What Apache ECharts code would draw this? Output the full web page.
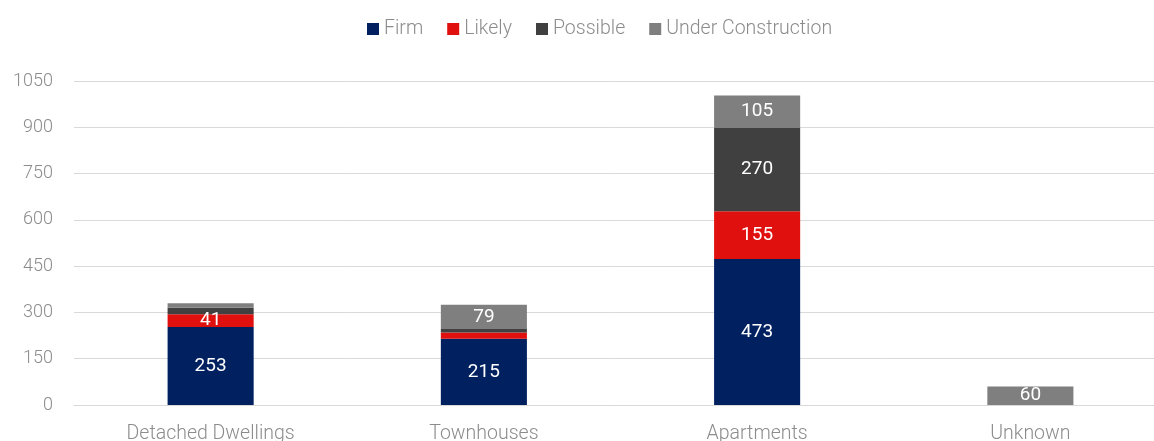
<!DOCTYPE html>
<html>
<head>
<meta charset="utf-8">
<title>Dwellings by Status</title>
<script src="https://cdn.jsdelivr.net/npm/echarts@6/dist/echarts.min.js"></script>
<style>
  html, body { margin: 0; padding: 0; background: #ffffff; }
  #chart { width: 1154px; height: 441px; }
</style>
</head>
<body>
<div id="chart"></div>
<script>
// Dwelling counts by type and development status
const categories = ['Detached Dwellings', 'Townhouses', 'Apartments', 'Unknown'];
const firm = [253, 215, 473, 0];
const likely = [41, 20, 155, 0];
const possible = [21, 11, 270, 0];
const underConstruction = [15, 79, 105, 60];
const yTicks = { min: 0, max: 1050, step: 150 };

const seriesDefs = [
  { name: 'Firm', values: firm, color: '#002060' },
  { name: 'Likely', values: likely, color: '#E0100F' },
  { name: 'Possible', values: possible, color: '#404040' },
  { name: 'Under Construction', values: underConstruction, color: '#7F7F7F' }
];

// Segments that are too thin to hold a number stay unlabelled
const LABEL_MIN = 40;

const chart = echarts.init(document.getElementById('chart'), null, { renderer: 'canvas' });

chart.setOption({
  animation: false,
  backgroundColor: '#ffffff',
  textStyle: { fontFamily: 'Roboto' },
  legend: {
    top: 14,
    left: 362,
    itemWidth: 12,
    itemHeight: 12,
    itemGap: 24,
    icon: 'rect',
    textStyle: { color: '#8c8c8c', fontSize: 19.5, fontWeight: 300, fontFamily: 'Roboto' },
    data: seriesDefs.map(s => s.name)
  },
  // the plot area runs a little past the right edge of the canvas
  grid: { left: 74, top: 81, width: 1093, height: 324, outerBoundsMode: 'none', containLabel: false },
  xAxis: {
    type: 'category',
    data: categories,
    axisLine: { show: true, lineStyle: { color: '#d9d9d9', width: 1 } },
    axisTick: { show: false },
    axisLabel: { color: '#8c8c8c', fontSize: 19.5, fontWeight: 300, margin: 19, fontFamily: 'Roboto' }
  },
  yAxis: {
    type: 'value',
    min: yTicks.min,
    max: yTicks.max,
    interval: yTicks.step,
    axisLine: { show: false },
    axisTick: { show: false },
    splitLine: { lineStyle: { color: '#d9d9d9', width: 1 } },
    axisLabel: {
      color: '#8c8c8c', fontSize: 18, fontWeight: 300, margin: 21, fontFamily: 'Roboto',
      formatter: v => String(v)
    }
  },
  series: seriesDefs.map(s => ({
    name: s.name,
    type: 'bar',
    stack: 'total',
    barWidth: '31.5%',
    itemStyle: { color: s.color },
    data: s.values.map(v => ({
      value: v,
      label: {
        show: v >= LABEL_MIN,
        position: 'inside',
        color: '#ffffff',
        fontSize: 19,
        fontFamily: 'Roboto'
      }
    }))
  }))
});
</script>
</body>
</html>
